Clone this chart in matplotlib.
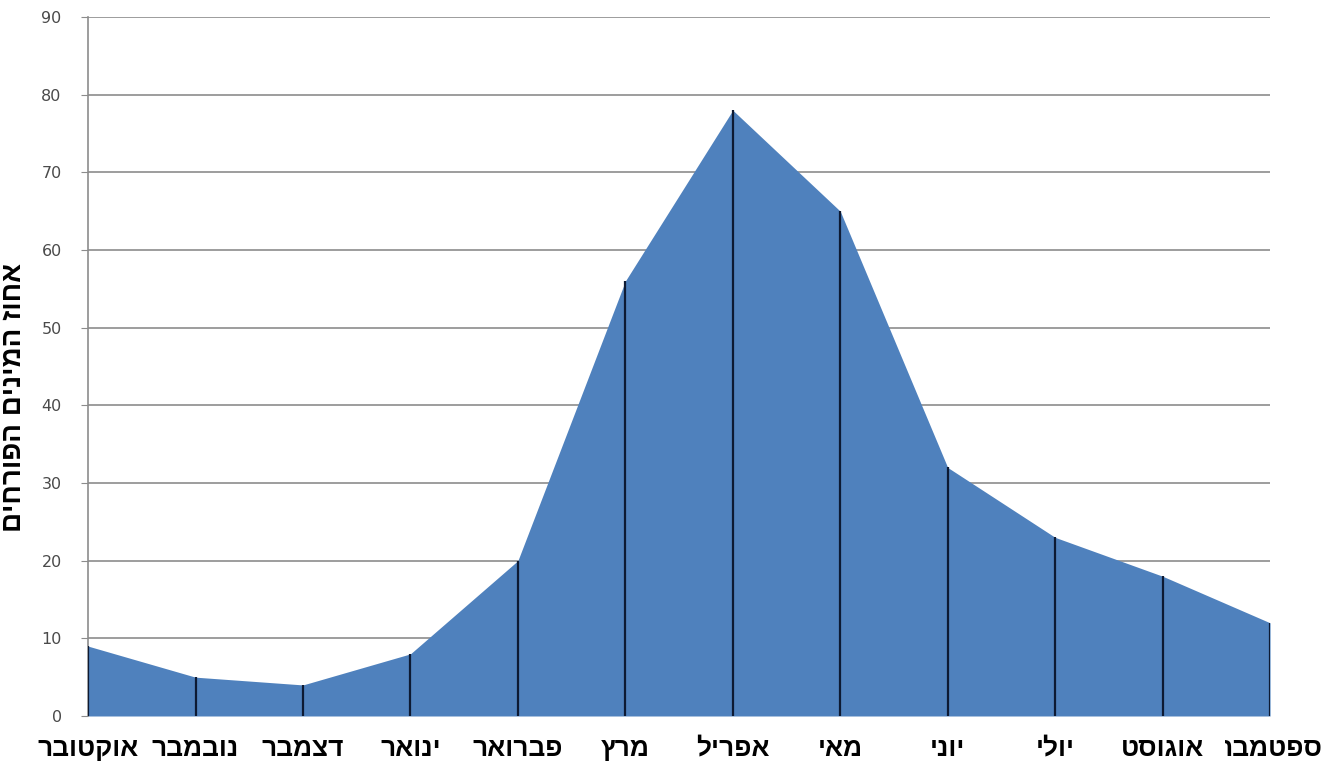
import matplotlib.pyplot as plt
from matplotlib.transforms import Bbox
import numpy as np

plt.rcParams['font.family'] = ['Liberation Sans', 'DejaVu Sans']

months = ["אוקטובר", "נובמבר", "דצמבר", "ינואר", "פברואר", "מרץ",
          "אפריל", "מאי", "יוני", "יולי", "אוגוסט", "ספטמבר"]
pct = [9, 5, 4, 8, 20, 56, 78, 65, 32, 23, 18, 12]
ylabel = "אחוז המינים הפורחים"


def rtl(s):
    # no bidi in matplotlib, flip the string so it reads right to left
    return s[::-1]


x = np.arange(len(months))

fig = plt.figure(figsize=(13.32, 7.67), dpi=100)
ax = fig.add_axes([0.0661, 0.0665, 0.8874, 0.9113])

ax.fill_between(x, 0, pct, color='#4F81BD', linewidth=0, zorder=2)
ax.vlines(x, 0, pct, color='#0d1a33', linewidth=1.6, zorder=3)

ax.set_xlim(0, len(months) - 1)
ax.set_ylim(0, 90)
ax.set_yticks(range(0, 91, 10))
ax.yaxis.grid(True, color='#8c8c8c', linewidth=1.2, zorder=1)
ax.set_axisbelow(True)

ax.set_xticks(x)
ax.set_xticklabels([rtl(m) for m in months], fontsize=19, fontweight='bold')
ax.tick_params(axis='x', length=0, pad=15)
ax.tick_params(axis='y', length=5, color='#8c8c8c', pad=14)
for t in ax.get_yticklabels():
    t.set_family('DejaVu Sans')
    t.set_fontsize(11.5)
    t.set_color('#4a4a4a')

for side in ['top', 'right', 'bottom']:
    ax.spines[side].set_visible(False)
ax.spines['left'].set_color('#8c8c8c')
ax.spines['left'].set_linewidth(1.2)

ax.set_ylabel(rtl(ylabel), fontsize=20, fontweight='bold')
ax.yaxis.set_label_coords(-0.052, 0.455)

# last month label runs past the plot edge and loses part of a letter
last = ax.get_xticklabels()[-1]
last.set_clip_on(True)
last.set_clip_box(Bbox.from_extents(1225, 0, 1332, 767))

fig.savefig('out.png', dpi=100)
